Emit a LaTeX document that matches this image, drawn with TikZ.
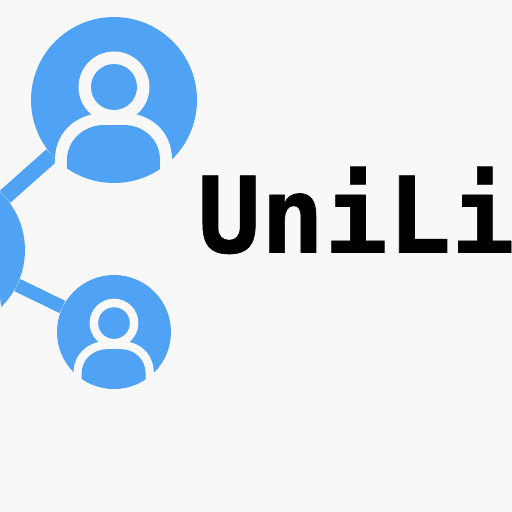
\documentclass[tikz,border=0pt]{standalone}
\usepackage{fontspec}
\newfontfamily\titlefont[BoldFeatures={FakeBold=0.6}]{DejaVu Sans Mono}
\definecolor{uniblue}{HTML}{4FA2F4}
\definecolor{pagebg}{HTML}{F8F8F8}
\begin{document}
\begin{tikzpicture}[x=0.02cm, y=-0.02cm,
  person/.style={circle, fill=uniblue, inner sep=0pt},
  link/.style={draw=uniblue, line width=0.27cm}]
  \tikzset{userpic/.pic={
    % shoulders: ring first, then the body cut off by the disc
    \fill[pagebg] (-59,100) -- (-59,60) .. controls (-59,30) and (-35,13) .. (-10,13)
      -- (10,13) .. controls (35,13) and (58,30) .. (58,60) -- (58,100) -- cycle;
    \begin{scope}
      \clip (0,0) circle (83);
      \fill[uniblue] (-47,100) -- (-47,60) .. controls (-47,40) and (-30,25) .. (-10,25)
        -- (10,25) .. controls (30,25) and (46,40) .. (46,60) -- (46,100) -- cycle;
    \end{scope}
    % head
    \fill[pagebg] (0,-13) circle (35.5);
    \fill[uniblue] (0,-13) circle (23);
  }}
  \useasboundingbox (0,0) rectangle (512,512);
  \fill[pagebg] (0,0) rectangle (512,512);
  % Discs
  \node[person, minimum size=3.32cm] (user1) at (114,100) {};
  \node[person, minimum size=2.28cm] (user2) at (114,332) {};
  \node[person, minimum size=3.2cm] (hub) at (-55,250) {};
  % Links
  \draw[link, line width=0.32cm] (hub) -- (user1);
  \draw[link] (hub) -- (user2);
  % Icons (drawn last so they sit on top of links)
  \pic at (user1) {userpic};
  \pic[scale=0.687] at (user2) {userpic};
  \pic[scale=0.964] at (hub) {userpic};
  \node[anchor=base west, inner sep=0pt, font=\titlefont\bfseries\fontsize{60}{60}\selectfont] (title) at (197,252.5) {UniLi};
\end{tikzpicture}
\end{document}
